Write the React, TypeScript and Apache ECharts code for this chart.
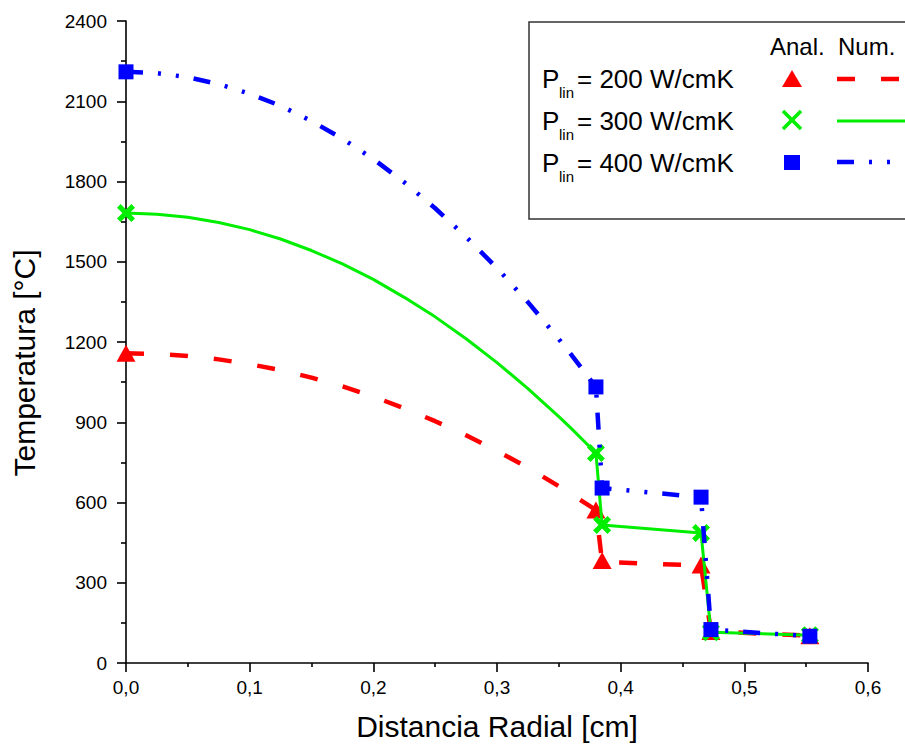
import React, { useEffect, useRef } from "react";
import * as echarts from "echarts";

// Numerical solution (lines)
const xNum = [0, 0.025, 0.05, 0.075, 0.1, 0.125, 0.15, 0.175, 0.2, 0.225, 0.25, 0.275, 0.3, 0.325, 0.35, 0.36, 0.38, 0.385, 0.465, 0.473, 0.553];
const red200Num = [1158, 1155, 1148, 1135, 1117, 1095, 1067, 1034, 996, 952, 904, 851, 793, 730, 661, 632, 572, 378, 364, 118, 102];
const green300Num = [1682, 1678, 1666, 1647, 1620, 1585, 1542, 1492, 1434, 1367, 1294, 1212, 1123, 1026, 921, 877, 785, 516, 486, 115, 104];
const blue400Num = [2210, 2205, 2190, 2164, 2128, 2083, 2026, 1960, 1884, 1797, 1700, 1593, 1476, 1349, 1211, 1153, 1032, 654, 620, 125, 100];

// Analytic solution (markers)
const xAna = [0, 0.38, 0.385, 0.465, 0.473, 0.553];
const red200Ana = [1158, 572, 383, 366, 118, 102];
const green300Ana = [1682, 785, 516, 486, 115, 104];
const blue400Ana = [2210, 1032, 654, 620, 125, 100];

const legendRows = ["= 200 W/cmK", "= 300 W/cmK", "= 400 W/cmK"];
const yTicks = { min: 0, max: 2400, interval: 300 };
const xTicks = { min: 0, max: 0.6, interval: 0.1 };

const RED = "#ff0000";
const GREEN = "#00ee00";
const BLUE = "#0000ff";
const FONT = 'Arial, "Liberation Sans", sans-serif';
const X_SYMBOL = "path://M0,2 L2,0 L5,3 L8,0 L10,2 L7,5 L10,8 L8,10 L5,7 L2,10 L0,8 L3,5 Z";
const RED_DASH = [18, 26];
const BLUE_DASH = [17, 15, 3, 15, 3, 15];

const zip = (xs: number[], ys: number[]) => xs.map((x, i) => [x, ys[i]]);

export default function App() {
  const ref = useRef<HTMLDivElement>(null);
  useEffect(() => {
    if (!ref.current) return;
    const chart = echarts.init(ref.current, null, { renderer: "svg" });
    const rowY = [79, 121, 163];
    const legendGraphics: any[] = [
      {
        type: "rect",
        shape: { x: 529, y: 22, width: 420, height: 197 },
        style: { fill: "#fff", stroke: "#333", lineWidth: 1.5 },
        z: 100,
      },
      { type: "text", x: 770, y: 46, z: 101, style: { text: "Anal.", font: `24px ${FONT}`, fill: "#000", align: "left", verticalAlign: "middle" } },
      { type: "text", x: 838, y: 46, z: 101, style: { text: "Num.", font: `24px ${FONT}`, fill: "#000", align: "left", verticalAlign: "middle" } },
    ];
    legendRows.forEach((t, i) => {
      legendGraphics.push(
        { type: "text", x: 542, y: rowY[i], z: 101, style: { text: "P", font: `26px ${FONT}`, fill: "#000", align: "left", verticalAlign: "middle" } },
        { type: "text", x: 559, y: rowY[i] + 13, z: 101, style: { text: "lin", font: `15px ${FONT}`, fill: "#000", align: "left", verticalAlign: "middle" } },
        { type: "text", x: 577, y: rowY[i], z: 101, style: { text: t, font: `26px ${FONT}`, fill: "#000", align: "left", verticalAlign: "middle" } }
      );
    });
    legendGraphics.push(
      { type: "polygon", z: 101, shape: { points: [[792, 70], [802, 87], [782, 87]] }, style: { fill: RED } },
      { type: "line", z: 101, shape: { x1: 783, y1: 111, x2: 801, y2: 129 }, style: { stroke: GREEN, lineWidth: 3.5 } },
      { type: "line", z: 101, shape: { x1: 801, y1: 111, x2: 783, y2: 129 }, style: { stroke: GREEN, lineWidth: 3.5 } },
      { type: "rect", z: 101, shape: { x: 784, y: 155, width: 16, height: 15 }, style: { fill: BLUE } },
      { type: "line", z: 101, shape: { x1: 837, y1: 79, x2: 905, y2: 79 }, style: { stroke: RED, lineWidth: 4.5, lineDash: RED_DASH } },
      { type: "line", z: 101, shape: { x1: 837, y1: 121, x2: 905, y2: 121 }, style: { stroke: GREEN, lineWidth: 3 } },
      { type: "line", z: 101, shape: { x1: 837, y1: 162, x2: 905, y2: 162 }, style: { stroke: BLUE, lineWidth: 4.5, lineDash: BLUE_DASH } }
    );
    legendGraphics.push({
      type: "text",
      x: 24,
      y: 363,
      rotation: Math.PI / 2,
      style: { text: "Temperatura [°C]", font: `30px ${FONT}`, fill: "#000", align: "center", verticalAlign: "middle" },
    });

    const axisLabelStyle = { color: "#000", fontFamily: FONT, fontSize: 19 };
    chart.setOption({
      animation: false,
      backgroundColor: "#fff",
      grid: { left: 126, right: 37, top: 21, bottom: 86 },
      xAxis: {
        type: "value",
        min: xTicks.min,
        max: xTicks.max,
        interval: xTicks.interval,
        name: "Distancia Radial [cm]",
        nameLocation: "middle",
        nameGap: 48,
        nameTextStyle: { color: "#000", fontFamily: FONT, fontSize: 30 },
        axisLine: { show: true, lineStyle: { color: "#000", width: 1.6 } },
        axisTick: { show: true, length: 9, lineStyle: { color: "#000", width: 1.6 } },
        minorTick: { show: true, splitNumber: 2, length: 4, lineStyle: { color: "#000", width: 1.6 } },
        splitLine: { show: false },
        axisLabel: { ...axisLabelStyle, margin: 15, formatter: (v: number) => v.toFixed(1).replace(".", ",") },
      },
      yAxis: {
        type: "value",
        min: yTicks.min,
        max: yTicks.max,
        interval: yTicks.interval,
        axisLine: { show: true, lineStyle: { color: "#000", width: 1.6 } },
        axisTick: { show: true, length: 9, lineStyle: { color: "#000", width: 1.6 } },
        minorTick: { show: true, splitNumber: 2, length: 5, lineStyle: { color: "#000", width: 1.6 } },
        splitLine: { show: false },
        axisLabel: { ...axisLabelStyle, margin: 19, formatter: (v: number) => String(v) },
      },
      graphic: legendGraphics,
      series: [
        {
          type: "line",
          data: zip(xNum, red200Num),
          symbol: "none",
          lineStyle: { color: RED, width: 4.5, type: RED_DASH, cap: "butt" },
          z: 2,
        },
        {
          type: "scatter",
          data: zip(xAna, red200Ana),
          symbol: "triangle",
          symbolSize: [19, 17],
          itemStyle: { color: RED, opacity: 1 },
          z: 3,
        },
        {
          type: "line",
          data: zip(xNum, green300Num),
          symbol: "none",
          lineStyle: { color: GREEN, width: 3 },
          z: 4,
        },
        {
          type: "scatter",
          data: zip(xAna, green300Ana),
          symbol: X_SYMBOL,
          symbolSize: 18,
          itemStyle: { color: GREEN, opacity: 1 },
          z: 5,
        },
        {
          type: "line",
          data: zip(xNum, blue400Num),
          symbol: "none",
          lineStyle: { color: BLUE, width: 4.5, type: BLUE_DASH, cap: "butt" },
          z: 6,
        },
        {
          type: "scatter",
          data: zip(xAna, blue400Ana),
          symbol: "rect",
          symbolSize: 15,
          itemStyle: { color: BLUE, opacity: 1 },
          z: 7,
        },
      ],
    });
    return () => chart.dispose();
  }, []);
  return <div ref={ref} style={{ width: 905, height: 749, position: "absolute", left: 0, top: 0 }} />;
}
